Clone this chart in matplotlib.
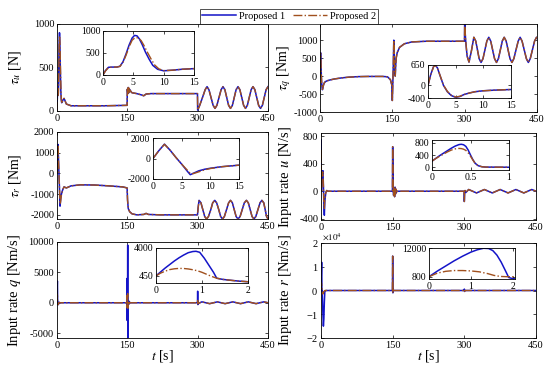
import numpy as np
import matplotlib
matplotlib.use("Agg")
import matplotlib.pyplot as plt
from matplotlib.ticker import ScalarFormatter

plt.rcParams['font.family'] = ['Liberation Serif', 'DejaVu Serif']
plt.rcParams['mathtext.fontset'] = 'stix'
plt.rcParams['axes.unicode_minus'] = False

BLUE = '#1414c8'
BROWN = '#a0501e'

# ---------------- tau_u ----------------
tu_early_t = [0, 0.4, 0.9, 1.5, 2.3, 2.8, 3.3, 3.8, 4.3, 4.8, 5.2, 5.6, 6.0, 6.5, 7.0, 7.6, 8.2, 9.0, 10.0, 11.5, 13, 15]
tu_early_p1 = [0, 100, 175, 180, 180, 200, 300, 480, 680, 840, 900, 890, 820, 680, 520, 360, 220, 130, 95, 110, 130, 145]
tu_early_t2 = [0, 0.4, 0.9, 1.5, 2.3, 2.8, 3.3, 3.8, 4.3, 4.8, 5.3, 5.8, 6.3, 6.8, 7.3, 7.9, 8.5, 9.2, 10.0, 11.5, 13, 15]
tu_early_p2 = [0, 90, 170, 180, 180, 195, 290, 450, 640, 790, 850, 845, 780, 660, 520, 370, 230, 140, 100, 110, 130, 145]
tu_late_t = [17, 20, 30, 60, 100, 149.5, 150, 151, 152, 153, 154, 155, 156, 158, 160, 170, 180, 185, 190, 200, 250, 299.6]
tu_late = [120, 80, 60, 60, 60, 65, 250, 200, 270, 210, 260, 230, 240, 220, 210, 200, 185, 175, 195, 200, 200, 200]
tu_wave_t = [300, 304, 310, 316, 320, 324, 328.5, 333, 337, 341, 345.5, 350, 354, 358, 362, 366, 370, 374, 378,
             382, 386, 390, 394, 398, 402, 406, 410, 414, 418, 422, 426, 430, 434, 438, 442, 446, 450]
tu_wave = [10, 60, 150, 245, 280, 245, 155, 65, 30, 65, 155, 245, 280, 245, 155, 65, 30, 65, 155,
           245, 280, 245, 155, 65, 30, 65, 155, 245, 280, 245, 155, 65, 30, 65, 155, 245, 280]

# ---------------- tau_q ----------------
tq_early_t = [0, 0.5, 1.0, 1.3, 1.7, 2.2, 2.8, 3.5, 4.2, 5.0, 5.8, 6.5, 7.5, 8.5, 10, 12, 15]
tq_early_p1 = [0, 350, 600, 650, 560, 300, 0, -200, -320, -380, -350, -290, -240, -200, -170, -150, -130]
tq_early_p2 = [0, 340, 590, 640, 560, 310, 10, -190, -310, -370, -345, -290, -240, -200, -170, -150, -130]
tq_late_t = [20, 30, 45, 60, 80, 100, 130, 140, 146, 149, 150, 151, 152, 153, 154, 155, 156, 157, 158, 160,
             165, 175, 190, 220, 299.6]
tq_late = [-110, -80, -50, -30, -15, -10, -10, -20, -100, -250, -680, -200, 300, 1000, 600, 200, 0, 300, 500, 650,
           800, 900, 950, 970, 970]
tq_wave_t = [300, 302, 305, 309, 314, 319, 323, 326.5, 330, 334, 338, 342, 346, 350, 354, 358, 362, 366, 370,
             374, 378, 382, 386, 390, 394, 398, 402, 406.5, 411, 415, 419, 423.5, 428, 432, 436, 440.5, 445, 449, 450]
tq_wave = [1450, 1000, 560, 390, 700, 1080, 975, 730, 485, 380, 485, 730, 975, 1080, 975, 730, 485, 380, 485,
           730, 975, 1080, 975, 730, 485, 380, 485, 730, 975, 1080, 975, 730, 485, 380, 485, 730, 975, 1080, 1075]

# ---------------- tau_r ----------------
tr_early_t = [0, 1, 2, 3, 4, 5, 6, 6.5, 7, 8, 9, 10, 12, 15]
tr_early_p1 = [0, 750, 1400, 800, 100, -550, -1250, -1580, -1450, -1200, -1050, -950, -800, -650]
tr_early_p2 = [0, 750, 1380, 800, 100, -550, -1150, -1450, -1480, -1300, -1100, -980, -800, -650]
tr_late_t = [20, 30, 50, 80, 110, 140, 149.5, 150.5, 152, 155, 160, 170, 185, 190, 195, 220, 299.6]
tr_late = [-700, -600, -550, -560, -600, -650, -700, -1300, -1700, -1850, -1950, -2000, -1980, -1930, -1980, -2000, -2000]
tr_wave_t = [301, 303, 307, 311, 315, 319, 323, 328, 332, 336.5, 340.5, 345, 349, 353, 357, 361.5, 366, 370,
             374, 378, 382, 386, 390.5, 395, 399.5, 404, 408, 412, 416, 420, 424, 428.5, 433, 437, 441, 444, 447, 450]
tr_wave = [-1650, -1300, -1420, -1750, -2080, -2200, -2080, -1750, -1420, -1300, -1420, -1750, -2080, -2200,
           -2080, -1750, -1420, -1300, -1420, -1750, -2080, -2200, -2080, -1750, -1420, -1300, -1420, -1750,
           -2080, -2200, -2080, -1750, -1420, -1300, -1420, -1750, -2080, -2200]

# ---------------- input rate u ----------------
ru_early_t = [0, 0.05, 0.1, 0.15, 0.2, 0.25, 0.3, 0.35, 0.38, 0.41, 0.44, 0.47, 0.5, 0.53, 0.56, 0.6, 0.65, 0.7, 1.0]
ru_early_p1 = [200, 290, 380, 460, 540, 620, 690, 740, 750, 735, 680, 560, 400, 250, 130, 50, 15, 5, 0]
ru_early_p2 = [200, 285, 360, 430, 500, 560, 600, 615, 610, 590, 550, 470, 360, 240, 130, 50, 15, 5, 0]
ru_mid_t = [1.5, 2, 3, 4, 5, 6, 7, 8, 10, 12, 15]
ru_mid_p1 = [150, 300, 250, 300, 100, -200, -350, -150, -20, 10, 0]
ru_mid_p2 = [150, 280, 230, 280, 80, -150, -250, -120, -20, 10, 0]
ru_late_t = [20, 149.5, 150, 151, 152, 153, 154, 155, 156, 157, 158, 160, 299.6, 300, 300.6, 301.5, 303, 309,
             325.5, 342, 358.5, 375, 391.5, 408, 424.5, 441, 450]
ru_late = [0, 0, 650, 0, -60, 40, -80, 60, -40, 30, -10, 0, 0, -150, -30, 10, -20, 25,
           -25, 25, -25, 25, -25, 25, -25, 25, 0]

# ---------------- input rate q ----------------
rq_early_t = [0, 0.1, 0.2, 0.3, 0.4, 0.5, 0.6, 0.7, 0.8, 0.87, 0.95, 1.05, 1.15, 1.25, 1.32, 1.45, 1.6, 1.8, 2.0]
rq_early_p1 = [450, 950, 1450, 1900, 2350, 2750, 3100, 3400, 3550, 3580, 3450, 2700, 1800, 900, 150, 0, -100, -220, -300]
rq_early_t2 = [0, 0.1, 0.2, 0.3, 0.4, 0.5, 0.6, 0.7, 0.8, 0.9, 1.0, 1.1, 1.2, 1.32, 1.45, 1.6, 1.8, 2.0]
rq_early_p2 = [450, 800, 1050, 1250, 1350, 1400, 1390, 1330, 1230, 1100, 900, 650, 400, 150, 0, -100, -220, -300]
rq_late_t = [3, 4, 6, 149, 149.3, 149.6, 150, 150.4, 150.8, 151.2, 151.6, 152, 153, 154, 155, 156, 299.6,
             300, 300.4, 300.8, 302, 309, 325.5, 342, 358.5, 375, 391.5, 408, 424.5, 441, 450]
rq_late_p1 = [-300, 100, 0, 0, 4000, -2900, 200, 0, 9500, -6500, 300, -200, 300, -200, 100, 0, 0,
              1900, -300, 100, -100, 150, -150, 150, -150, 150, -150, 150, -150, 150, 0]
rq_late_p2 = [-200, 50, 0, 0, 1200, -800, 100, 0, 1500, -900, 200, -100, 150, -100, 50, 0, 0,
              600, -200, 50, -80, 140, -140, 140, -140, 140, -140, 140, -140, 140, 0]

# ---------------- input rate r ----------------
rr_early_t = [0, 0.2, 0.4, 0.6, 0.8, 1.0, 1.15, 1.3, 1.42, 1.52, 1.62, 1.72, 1.82, 1.9, 2.0]
rr_early_p1 = [800, 3000, 5000, 7000, 8800, 10400, 11300, 11900, 11800, 11000, 9200, 6500, 3200, 500, 0]
rr_early_t2 = [0, 0.2, 0.4, 0.6, 0.8, 1.0, 1.2, 1.4, 1.55, 1.7, 1.85, 2.0]
rr_early_p2 = [800, 2200, 2900, 3200, 3200, 3050, 2700, 2000, 1300, 900, 800, 800]
rr_late_t = [2.5, 3, 4, 5, 6, 7, 8, 10, 149.5, 150, 150.5, 151, 152, 155, 299.6, 300, 300.5, 301, 450]
rr_late_p1 = [0, -3000, -10000, -15000, -12000, -5000, -500, 0, 0, 14500, -1000, 500, 0, 0, 0, 600, -400, 0, 0]
rr_late_p2 = [500, 0, -1500, -1000, -500, -200, 0, 0, 0, 14500, -800, 400, 0, 0, 0, 400, -300, 0, 0]

W, H = 550, 369
fig = plt.figure(figsize=(W / 100, H / 100), dpi=100)


def add_ax(x0, y0, x1, y1):
    return fig.add_axes([x0 / W, 1 - y1 / H, (x1 - x0) / W, (y1 - y0) / H])


def style(ax, size=7.5):
    ax.tick_params(direction='in', length=2.5, width=0.5, labelsize=size, top=True, right=True, pad=2)
    for s in ax.spines.values():
        s.set_linewidth(0.6)


def series(ax, t1, y1, t2, y2):
    l1, = ax.plot(t1, y1, color=BLUE, lw=1.1, label='Proposed 1')
    l2, = ax.plot(t2, y2, color=BROWN, lw=1.0, ls='-.', label='Proposed 2')
    return l1, l2


panels = [
    # main box, inset box, main ylim, main yticks, inset xlim, inset ylim, inset xticks, inset yticks, ylabel
    ((57, 24, 268, 111), (103, 31, 194, 75), (0, 1000), [0, 500, 1000], (0, 15), (0, 1000), [0, 5, 10, 15],
     [0, 500, 1000], r'$\tau_u$ [N]'),
    ((320, 24, 537, 112), (428, 65, 511, 98), (-1000, 1450), [-1000, -500, 0, 500, 1000], (0, 15), (-400, 650),
     [0, 5, 10, 15], [-400, 0, 650], r'$\tau_q$ [Nm]'),
    ((57, 132, 268, 219), (153, 138, 239, 179), (-2200, 2000), [-2000, -1000, 0, 1000, 2000], (0, 15),
     (-2000, 2000), [0, 5, 10, 15], [-2000, 0, 2000], r'$\tau_r$ [Nm]'),
    ((321, 133, 536, 220), (432, 140, 509, 170), (-420, 850), [-400, 0, 400, 800], (0, 1), (-90, 890),
     [0, 0.5, 1], [0, 400, 800], r'Input rate $u$ [N/s]'),
    ((57, 242, 268, 338), (156, 248, 248, 283), (-5800, 10000), [-5000, 0, 5000, 10000], (0, 2), (-460, 4000),
     [0, 1, 2], [450, 4000], r'Input rate $q$ [Nm/s]'),
    ((321, 243, 536, 338), (429, 248, 515, 279), (-20000, 20000), [-20000, -10000, 0, 10000, 20000], (0, 2.05),
     (-100, 12000), [0, 1, 2], [800, 12000], r'Input rate $r$ [Nm/s]'),
]

data = [
    (tu_early_t + tu_late_t + tu_wave_t, tu_early_p1 + tu_late + tu_wave,
     tu_early_t2 + tu_late_t + tu_wave_t, tu_early_p2 + tu_late + tu_wave),
    (tq_early_t + tq_late_t + tq_wave_t, tq_early_p1 + tq_late + tq_wave,
     tq_early_t + tq_late_t + tq_wave_t, tq_early_p2 + tq_late + tq_wave),
    (tr_early_t + tr_late_t + tr_wave_t, tr_early_p1 + tr_late + tr_wave,
     tr_early_t + tr_late_t + tr_wave_t, tr_early_p2 + tr_late + tr_wave),
    (ru_early_t + ru_mid_t + ru_late_t, ru_early_p1 + ru_mid_p1 + ru_late,
     ru_early_t + ru_mid_t + ru_late_t, ru_early_p2 + ru_mid_p2 + ru_late),
    (rq_early_t + rq_late_t, rq_early_p1 + rq_late_p1,
     rq_early_t2 + rq_late_t, rq_early_p2 + rq_late_p2),
    (rr_early_t + rr_late_t, rr_early_p1 + rr_late_p1,
     rr_early_t2 + rr_late_t, rr_early_p2 + rr_late_p2),
]

handles = None
for i, (p, d) in enumerate(zip(panels, data)):
    box, ibox, ylim, yticks, ixlim, iylim, ixt, iyt, ylab = p
    ax = add_ax(*box)
    h = series(ax, *d)
    if handles is None:
        handles = h
    ax.set_xlim(0, 450)
    ax.set_xticks([0, 150, 300, 450])
    ax.set_ylim(*ylim)
    ax.set_yticks(yticks)
    style(ax)
    ax.set_ylabel(ylab, fontsize=10 if i < 3 else 10.5)
    left_col = (i % 2 == 0)
    ax.yaxis.set_label_coords(-0.16 if left_col else -0.125, 0.5)
    if i == 5:
        fmt = ScalarFormatter(useMathText=True)
        fmt.set_powerlimits((0, 0))
        ax.yaxis.set_major_formatter(fmt)
        ax.yaxis.get_offset_text().set_visible(False)
        # exponent written by hand, just below the "0" of the panel above
        fig.text(322 / W, 1 - 241.5 / H, r'$\times10^{4}$', fontsize=6.5, ha='left', va='bottom')
    else:
        ax.ticklabel_format(axis='y', style='plain')
    if i >= 4:
        ax.set_xlabel(r'$t$ [s]', fontsize=10, labelpad=-1)

    ia = add_ax(*ibox)
    series(ia, *d)
    ia.set_xlim(*ixlim)
    ia.set_ylim(*iylim)
    ia.set_xticks(ixt)
    ia.set_yticks(iyt)
    ia.set_xticklabels([('%g' % v) for v in ixt])
    style(ia, 7)

leg = fig.legend(handles, ['Proposed 1', 'Proposed 2'], loc='center', ncol=2,
                 bbox_to_anchor=(289 / W, 1 - 16.5 / H), fontsize=7.5, frameon=True, fancybox=False,
                 handlelength=3.2, columnspacing=0.8, handletextpad=0.3, borderpad=0.25)
leg.get_frame().set_edgecolor('black')
leg.get_frame().set_linewidth(0.6)

fig.savefig('out.png', dpi=100)
